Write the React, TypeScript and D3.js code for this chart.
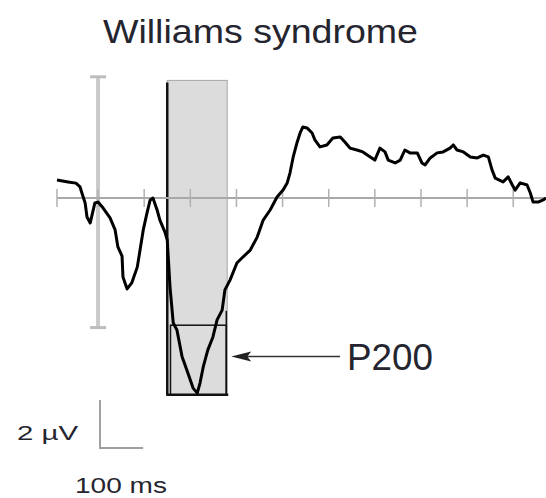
import React from 'react';
import * as d3 from 'd3';

// ERP trace, time in ms, amplitude in µV (positive plotted downward)
const times = [
  -89, -65, -48, -39, -35, -28, -24, -17, -7, 0, 11, 26, 37, 43, 52, 54, 63, 73, 85, 91,
  98, 106, 113, 119, 128, 134, 145, 150, 156, 163, 171, 182, 193, 206, 215, 221, 228, 238,
  249, 258, 269, 275, 286, 301, 314, 330, 345, 358, 373, 388, 401, 410, 416, 423, 431, 438,
  444, 453, 464, 470, 481, 496, 509, 525, 535, 546, 561, 574, 590, 600, 611, 622, 629, 644,
  655, 665, 676, 692, 702, 709, 720, 735, 748, 763, 770, 778, 792, 807, 822, 835, 846, 854,
  861, 878, 889, 898, 904, 915, 930, 937, 943, 954, 965, 971,
];
const values = [
  -0.75, -0.67, -0.62, -0.46, -0.21, 0.21, 0.79, 1.04, 0.21, 0.17, 0.42, 0.83, 1.33, 2.04,
  2.42, 3.29, 3.79, 3.54, 2.88, 2.17, 1.33, 0.63, 0.08, 0.0, 0.5, 0.92, 1.42, 1.75, 3.71,
  5.21, 5.5, 6.6, 7.2, 7.92, 8.13, 7.71, 7.04, 6.33, 5.79, 5.08, 4.67, 3.83, 3.42, 2.71,
  2.46, 2.17, 1.63, 0.92, 0.5, -0.04, -0.33, -0.63, -1.04, -1.71, -2.29, -2.71, -2.96,
  -2.92, -2.71, -2.42, -2.13, -2.21, -2.5, -2.54, -2.33, -2.08, -2.0, -1.92, -1.71, -1.58,
  -2.08, -1.92, -1.58, -1.46, -1.58, -2.0, -1.88, -1.88, -1.46, -1.38, -1.67, -1.88, -1.92,
  -2.08, -2.21, -2.0, -1.92, -1.71, -1.67, -1.79, -1.71, -1.17, -0.83, -0.67, -0.88, -0.54,
  -0.33, -0.63, -0.54, -0.21, 0.17, 0.17, 0.08, 0.0,
];
const tickTimes = [-89, 0, 100, 200, 300, 400, 500, 600, 700, 800, 900];
const ampBar = [-5.05, 5.4]; // grey µV bar at stimulus onset
const p200Window = [150, 280]; // ms
const p200Extent = [-4.9, 8.2]; // µV
const p200Inner = [157, 278, 5.3]; // black outline start, end, top
const title = 'Williams syndrome';
const peakLabel = 'P200';
const ampLabel = '2 µV';
const timeLabel = '100 ms';

const W = 546;
const H = 498;

export default function App() {
  const x = d3.scaleLinear().domain([-89, 971]).range([57, 546]);
  const y = d3.scaleLinear().domain([0, 1]).range([198, 222]);
  const line = d3.line<number>().x((_, i) => x(times[i])).y(d => y(d)).curve(d3.curveLinear);

  const x0 = x(0);
  const bx0 = x(p200Window[0]);
  const bx1 = x(p200Window[1]);
  const by0 = y(p200Extent[0]);
  const by1 = y(p200Extent[1]);
  const arrowY = y(6.6);

  // scale bar: 100 ms wide, 2 µV tall
  const sbX = 100;
  const sbY = 448;
  const sbW = x(100) - x(0);
  const sbH = y(2) - y(0);

  const font = 'Liberation Sans, Arial, Helvetica, sans-serif';
  const textColor = '#25252f';

  return (
    <svg width={W} height={H} style={{ position: 'absolute', left: 0, top: 0, background: '#fff' }}>
      <text x={103} y={43} fontSize={34} fontFamily={font} fill={textColor}
        textLength={315} lengthAdjust="spacingAndGlyphs">{title}</text>

      {/* P200 window */}
      <rect x={bx0} y={by0} width={bx1 - bx0} height={by1 - by0} fill="#dcdcdc" stroke="#a8a8a8" strokeWidth={1} />
      <line x1={bx0} x2={bx0} y1={by0 + 2} y2={by1} stroke="#111" strokeWidth={2.5} />
      <rect x={x(p200Inner[0])} y={y(p200Inner[2])} width={x(p200Inner[1]) - x(p200Inner[0])}
        height={by1 - y(p200Inner[2])} fill="none" stroke="#111" strokeWidth={1.5} />
      <line x1={x(p200Inner[1])} x2={x(p200Inner[1])} y1={y(4.7)} y2={by1} stroke="#111" strokeWidth={1.5} />
      <line x1={bx0 - 1} x2={bx1 + 1} y1={by1} y2={by1} stroke="#111" strokeWidth={2.5} />

      {/* amplitude bar */}
      <line x1={x0} x2={x0} y1={y(ampBar[0])} y2={y(ampBar[1])} stroke="#cacaca" strokeWidth={4} />
      <line x1={x0 - 8} x2={x0 + 8} y1={y(ampBar[0])} y2={y(ampBar[0])} stroke="#bdbdbd" strokeWidth={3} />
      <line x1={x0 - 8} x2={x0 + 8} y1={y(ampBar[1])} y2={y(ampBar[1])} stroke="#bdbdbd" strokeWidth={3} />

      {/* time axis */}
      <line x1={x(-89)} x2={W} y1={y(0)} y2={y(0)} stroke="#a9a9a9" strokeWidth={2} />
      {tickTimes.map(t => (
        <line key={t} x1={x(t)} x2={x(t)} y1={y(0) - 9} y2={y(0) + 9} stroke="#b0b0b0" strokeWidth={1.5} />
      ))}

      <path d={line(values) || ''} fill="none" stroke="#000" strokeWidth={3} strokeLinejoin="round" />

      {/* arrow + label */}
      <line x1={bx1 + 14} x2={340} y1={arrowY} y2={arrowY} stroke="#333" strokeWidth={1.5} />
      <path d={`M${bx1 + 4},${arrowY} L${bx1 + 24},${arrowY - 5} L${bx1 + 20},${arrowY} L${bx1 + 24},${arrowY + 5} Z`} fill="#222" />
      <text x={347} y={370} fontSize={36} fontFamily={font} fill={textColor}
        textLength={86} lengthAdjust="spacingAndGlyphs">{peakLabel}</text>

      {/* scale bar */}
      <path d={`M${sbX},${sbY - sbH} L${sbX},${sbY} L${sbX + sbW - 3},${sbY}`} fill="none" stroke="#a0a0a0" strokeWidth={2} />
      <text x={17} y={440} fontSize={21} fontFamily={font} fill={textColor}
        textLength={61} lengthAdjust="spacingAndGlyphs">{ampLabel}</text>
      <text x={75} y={493} fontSize={22} fontFamily={font} fill={textColor}
        textLength={92} lengthAdjust="spacingAndGlyphs">{timeLabel}</text>
    </svg>
  );
}
